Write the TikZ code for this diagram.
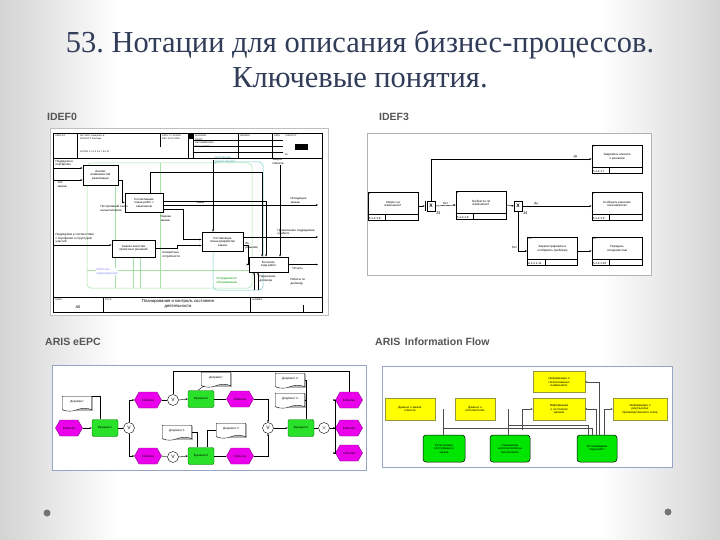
\documentclass[tikz,border=0pt]{standalone}
\usepackage{fontspec}
\setmainfont{Liberation Serif}
\setsansfont{Liberation Sans}
\usetikzlibrary{shapes.symbols,shapes.misc,arrows.meta}
\frenchspacing
\newcommand\mytiny{\sffamily\fontsize{3}{3.5}\selectfont}
\newcommand\myhdr{\sffamily\fontsize{2.3}{2.7}\selectfont}
\definecolor{titlec}{RGB}{48,60,88}
\definecolor{labc}{RGB}{85,85,85}
\definecolor{framec}{RGB}{150,165,195}
\definecolor{epcmag}{RGB}{235,0,235}
\definecolor{epcmagd}{RGB}{140,0,140}
\definecolor{epcgreen}{RGB}{40,225,40}
\definecolor{epcgreend}{RGB}{0,110,0}
\definecolor{ifyellow}{RGB}{255,255,0}
\definecolor{ifyellowd}{RGB}{150,150,60}
\definecolor{ifgreen}{RGB}{0,230,0}
\definecolor{lgreen}{RGB}{165,225,165}
\definecolor{lcyan}{RGB}{115,205,205}
\tikzset{
  lab/.style={font=\sffamily\bfseries\fontsize{10.5}{11}\selectfont, text=labc, anchor=west, inner sep=0pt},
  i0box/.style={draw, line width=0.8pt, fill=white, align=center, inner sep=0.5pt},
  tx/.style={align=left, inner sep=0.3pt},
  uobbox/.style={draw, line width=0.8pt, fill=white, minimum width=50pt, minimum height=28pt, inner sep=0pt},
  junc/.style={draw, line width=0.5pt, fill=white, minimum width=8pt, minimum height=10pt, inner sep=0pt, font=\sffamily\bfseries\fontsize{5}{5}\selectfont},
  event/.style={signal, signal to=east and west, signal pointer angle=120, fill=epcmag, draw=epcmagd, line width=0.4pt, minimum width=27pt, minimum height=16pt, inner sep=0.5pt},
  func/.style={rectangle, rounded corners=2pt, fill=epcgreen, draw=epcgreend, line width=0.4pt, minimum width=26pt, minimum height=17pt, inner sep=0.5pt},
  conn/.style={circle, draw, fill=white, line width=0.4pt, minimum size=11pt, inner sep=0pt, font=\sffamily\fontsize{5}{5}\selectfont},
  docnode/.style={minimum width=29pt, minimum height=13pt, inner sep=0pt},
  ybox/.style={fill=ifyellow, draw=ifyellowd, line width=0.3pt, align=center, inner sep=0.5pt},
  gbox/.style={fill=ifgreen, draw=black, line width=0.5pt, rounded corners=3pt, align=center, inner sep=0.5pt, minimum height=27pt},
  flow/.style={draw=black!70, line width=0.3pt},
  ln/.style={line width=0.4pt}
}
\newcommand\uob[6]{%
  \node[uobbox] (#1) at (#2,#3) {};
  \draw ([yshift=6pt]#1.south west) -- ([yshift=6pt]#1.south east);
  \draw ([xshift=18pt]#1.south west) -- ([xshift=18pt,yshift=6pt]#1.south west);
  \node[anchor=south west, inner sep=0.8pt] at (#1.south west) {#6};
  \node[anchor=north west, inner sep=0.8pt] at (#1.north west) {#4};
  \node[align=center, inner sep=0pt] at ([yshift=2pt]#1.center) {#5};
}
\newcommand\epcdoc[4]{%
  \node[docnode] (#1) at (#2,#3) {};
  \fill[black!30] ([xshift=1pt,yshift=-1pt]#1.north west) rectangle ([xshift=1pt,yshift=-1pt]#1.south east);
  \draw[fill=white, line width=0.35pt] (#1.north west) -- (#1.north east) -- (#1.south east)
     .. controls +(-5pt,2pt) and +(5pt,2pt) .. (#1.south)
     .. controls +(-5pt,-2pt) and +(5pt,-2pt) .. (#1.south west) -- cycle;
  \node[inner sep=0pt] at ([yshift=1pt]#1.center) {#4};
}
\begin{document}
\begin{tikzpicture}[x=1pt,y=-1pt,font=\mytiny,>={Stealth[length=2.2pt,width=1.8pt]}]
\useasboundingbox (0,0) rectangle (720,540);
% background
\fill[white] (0,0) rectangle (720,540);
\shade[left color=black!17, right color=white] (0,0) rectangle (120,540);
\shade[left color=white, right color=black!17] (600,0) rectangle (720,540);
\fill[black!55] (47,513) circle (3.5);
\fill[black!55] (668,512) circle (3.5);

% title
\node[text=titlec, font=\rmfamily\fontsize{30.5}{32}\selectfont] (title1) at (360,45) {53. Нотации для описания бизнес-процессов.};
\node[text=titlec, font=\rmfamily\fontsize{30.5}{32}\selectfont] (title2) at (360,78) {Ключевые понятия.};

% section labels
\node[lab] (l1) at (47,117) {IDEF0};
\node[lab] (l2) at (379,117) {IDEF3};
\node[lab] (l3) at (45,342) {ARIS eEPC};
\node[lab] (l4) at (375,342) {ARIS\, Information Flow};

%% ================= IDEF0 =================
\draw[draw=black!25, fill=white] (50,128) rectangle (328,315);
\draw[line width=0.5pt] (53,133) rectangle (322,312);
% header
\draw[ln] (53,158) -- (322,158);
\draw[ln] (77,133) -- (77,158);
\draw[ln] (160,133) -- (160,147);
\draw[ln] (188,133) -- (188,158);
\draw[ln] (193,133) -- (193,158);
\fill (188,133) rectangle (193,139);
\draw[ln] (193,140) -- (283,140);
\draw[ln] (193,146) -- (283,146);
\draw[ln] (193,152) -- (283,152);
\draw[ln] (238,133) -- (238,158);
\draw[ln] (272,133) -- (272,158);
\fill (295,144) rectangle (308,150);
\node[anchor=north west, font=\myhdr, inner sep=0pt] (h1) at (55,135) {USED AT:};
\node[anchor=north west, font=\myhdr, inner sep=0pt, align=left] (h2) at (80,135) {AUTHOR: Захаров Е.Б.\\PROJECT: Реклама};
\node[anchor=north west, font=\myhdr, inner sep=0pt] (h3) at (80,151) {NOTES: 1 2 3 4 5 6 7 8 9 10};
\node[anchor=north west, font=\myhdr, inner sep=0pt, align=left] (h4) at (162,135) {DATE: 17.11.2008\\REV: 16.12.2008};
\node[anchor=north west, font=\myhdr, inner sep=0pt, align=left] (h5) at (195,135) {WORKING\\[0.8pt]DRAFT\\[0.8pt]RECOMMENDED\\[0.8pt]PUBLICATION};
\node[anchor=north west, font=\myhdr, inner sep=0pt] (h6) at (240,135) {READER};
\node[anchor=north west, font=\myhdr, inner sep=0pt] (h7) at (274,135) {DATE};
\node[anchor=north west, font=\myhdr, inner sep=0pt] (h8) at (285,135) {CONTEXT:};
\node[anchor=north west, font=\myhdr, inner sep=0pt] (h9) at (285,154) {A0};
% footer
\draw[ln] (53,297) -- (322,297);
\draw[ln] (103,297) -- (103,312);
\draw[ln] (250,297) -- (250,312);
\draw[ln] (303,305) -- (303,312);
\node[anchor=north west, font=\myhdr, inner sep=0pt] (f1t) at (55,299) {NODE:};
\node[font=\sffamily\fontsize{4}{4}\selectfont] (f2t) at (78,307) {A0};
\node[anchor=north west, font=\myhdr, inner sep=0pt] (f3t) at (105,299) {TITLE:};
\node[font=\sffamily\fontsize{4.2}{5}\selectfont, align=center] (f4t) at (178,304) {Планирование и контроль состояния\\деятельности};
\node[anchor=north west, font=\myhdr, inner sep=0pt] (f5t) at (252,299) {NUMBER:};
% tunnels / light frames
\draw[lgreen, line width=0.5pt, rounded corners=4pt] (87,163) rectangle (252,288);
\draw[lcyan, line width=0.5pt, rounded corners=4pt] (213,162) rectangle (263,290);
\draw[lgreen, line width=0.4pt] (160,163) -- (160,288);
\draw[lgreen, line width=0.4pt] (133,257) -- (133,288);
\draw[lgreen, line width=0.4pt] (140,257) -- (140,288);
\draw[lgreen, line width=0.4pt] (115,185) -- (115,288);
\draw[lgreen, line width=0.4pt] (87,270) -- (252,270);
\node[tx, text=lcyan!85!black, anchor=north west] (tc1) at (214,156) {Сотрудники\\отдела продаж};
\node[tx, text=green!60!black, anchor=north west, fill=white] (tc2) at (216,277) {Сотрудники по\\обслуживанию};
\node[tx, text=blue!45, anchor=north west, fill=white] (tc3) at (96,268) {Работник\\подразделения};
% boxes
\node[i0box, minimum width=35pt, minimum height=20pt] (b1) at (100.5,175) {Анализ\\возможностей\\реализации};
\node[i0box, minimum width=38pt, minimum height=19pt] (b2) at (144,202.5) {Согласование\\плана работ с\\заказчиком};
\node[i0box, minimum width=43pt, minimum height=17pt] (b3) at (133.5,248.5) {Анализ качества\\проектных решений};
\node[i0box, minimum width=41pt, minimum height=19pt] (b4) at (222.5,241.5) {Составление\\плана разработки\\заказа};
\node[i0box, minimum width=39pt, minimum height=15pt] (b5) at (268.5,264.5) {Контроль\\хода работ};
% arrows
\coordinate (in1) at (54,168);
\coordinate (in2) at (54,180);
\coordinate (in3) at (54,245);
\coordinate (k1) at (262,172);
\coordinate (k2) at (280,165);
\coordinate (k3) at (213,160);
\coordinate (o1) at (318,205);
\coordinate (o2) at (318,237);
\coordinate (o3) at (318,264.5);
\coordinate (m1) at (254,290);
\coordinate (m2) at (258,290);
\draw[ln,->] (in1) -- (in1 -| b1.west);
\draw[ln,->] (in2) -- (in2 -| b1.west);
\draw[ln,->] ([yshift=-5pt]b1.east) -- ++(4pt,0pt) |- (b2.west);
\draw[ln,->] ([xshift=6pt]b2.north) |- (k1) -- (k1 |- b5.north);
\draw[ln,->] ([yshift=-2.5pt]b2.east) -- (o1);
\draw[ln,->] ([yshift=1pt]b2.east) -| ([xshift=-2.5pt]b5.north);
\draw[ln,->] ([yshift=-7pt]b2.east) -- ++(20pt,0pt) |- ([yshift=2pt]b4.west);
\draw[line width=0.8pt,->] (in3) -- (in3 -| b3.west);
\draw[ln,->] (b3.east) -- ++(22pt,0pt) |- ([yshift=-4pt]b4.west);
\draw[ln,->] ([yshift=4.5pt]b4.east) -- (o2);
\draw[ln,->] ([yshift=-4pt]b4.east) -- ++(5pt,0pt) |- (b5.west);
\draw[ln,->] (b5.east) -- (o3);
\draw[ln,->] (m1) -- (m1 |- b5.south);
\draw[ln,->] (m2) -- (m2 |- b5.south);
\draw[ln,->] (k2) -- (k2 |- b5.north);
\draw[ln,->] (k3) -- (k3 |- b4.north);
% labels
\node[tx, anchor=south west] (t1) at (55,167) {Подрядчик в\\портфолио};
\node[tx, anchor=north west] (t2) at (57,181) {Тип\\заказа};
\node[tx, anchor=north west] (t3) at (100,205) {Поступивший заказ\\на выполнение};
\node[tx, anchor=south west] (t4) at (55,244) {Подрядчики в соответствии\\с портфолио и структурой\\участий};
\node[tx, anchor=south west] (t5) at (196,204) {Заказ};
\node[tx, anchor=south west] (t6) at (290,204) {Исходящие\\заказы};
\node[tx, anchor=north west] (t7) at (160,215) {Оценка\\заказа};
\node[tx, anchor=north west] (t8) at (162,251) {Конкретные\\потребности};
\node[tx, anchor=south west] (t9) at (277,236) {Привлечение подрядчиков\\к работе};
\node[tx, anchor=north west] (t10) at (245,242) {Вх.\\решение};
\node[tx, anchor=north west] (t11) at (292,267) {Отчеты};
\node[tx, anchor=north west] (t12) at (290,278) {Работы по\\договору};
\node[tx, anchor=north west] (t13) at (259,275) {Нарушение\\договора};
\node[tx, anchor=north west] (t14) at (272,158) {Запрос\\клиента};

%% ================= IDEF3 =================
\draw[draw=black!30, fill=white] (367,133) rectangle (651,275);
\uob{bA}{393}{206}{8.}{Запрос на\\изменение?}{А.1.2.1.8}
\uob{bB}{481}{205}{9.}{Требуется ли\\изменение?}{А.1.2.1.9}
\uob{bT}{617}{159}{7.}{Уведомить клиента\\о решении}{А.1.2.1.7}
\uob{bM}{617}{206}{6.}{Сообщить решение\\пользователю}{А.1.2.1.6}
\uob{bBM}{552.5}{251}{11.}{Зарегистрировать и\\отобразить проблему}{А.1.2.1.11}
\uob{bBR}{617}{251}{10.}{Передать\\специалистам}{А.1.2.1.10}
\node[junc] (j1) at (431,206) {X};
\draw[line width=0.5pt] ([xshift=-2pt]j1.north west) -- ([xshift=-2pt]j1.south west);
\node[junc] (j2) at (518,206) {X};
\node[anchor=north west, font=\sffamily\fontsize{4}{4}\selectfont, inner sep=0pt] (jl1) at (436,212) {J3};
\node[anchor=north west, font=\sffamily\fontsize{4}{4}\selectfont, inner sep=0pt] (jl2) at (523,212) {J4};
\draw[ln,->] (bA.east) -- ([xshift=-2pt]j1.west);
\draw[ln,->] (j1.east) -- (bB.west) node[midway, above, inner sep=0.8pt] {Нет};
\draw[ln,->] (j1.north) |- (bT.west) node[pos=0.95, above, inner sep=0.8pt] {Да};
\draw[ln,->] (bB.east) -- (j2.west);
\draw[ln,->] (j2.east) -- (bM.west) node[pos=0.2, above, inner sep=0.8pt] {Да};
\draw[ln,->] (j2.south) |- (bBM.west) node[pos=0.45, left, inner sep=0.8pt] {Нет};
\draw[ln,->] (bBM.east) -- (bBR.west);

%% ================= ARIS eEPC =================
\draw[draw=framec, fill=white, line width=0.5pt] (52,365) rectangle (366,470);
\coordinate (looptop) at (0,371);
\node[event] (e1) at (69,428) {Событие};
\node[func] (f1) at (105,428) {Функция 1};
\node[conn] (c1) at (129,428) {V};
\node[event] (e2) at (148,400) {Событие};
\node[event] (e3) at (148,456) {Событие};
\node[conn] (c2) at (173,400) {V};
\node[conn] (c3) at (173,457) {V};
\node[func] (f2) at (201,399) {Функция 2};
\node[func] (f3) at (201,456) {Функция 3};
\node[event] (e4) at (240,399) {Событие};
\node[event] (e5) at (240,456) {Событие};
\node[conn] (c4) at (268,428) {V};
\node[func] (f4) at (301,428) {Функция 4};
\node[conn] (c5) at (324,428) {$\times$};
\node[event] (e6) at (349,400) {Событие};
\node[event] (e7) at (349,428) {Событие};
\node[event] (e8) at (349,453) {Событие};
\draw[ln,->] (e1.east) -- (f1.west);
\draw[ln] (f1.east) -- (c1.west);
\draw[ln,->] (c1.north) |- (e2.west);
\draw[ln,->] (c1.south) |- (e3.west);
\draw[ln] (e2.east) -- (c2.west);
\draw[ln,->] (c2.east) -- (f2.west);
\draw[ln] (f2.east) -- (e4.west);
\draw[ln,->] (e4.east) -| (c4.north);
\draw[ln] (e3.east) -- (c3.west);
\draw[ln,->] (c3.east) -- (f3.west);
\draw[ln] (f3.east) -- (e5.west);
\draw[ln,->] (e5.east) -| (c4.south);
\draw[ln,->] (c4.east) -- (f4.west);
\draw[ln] (f4.east) -- (c5.west);
\draw[ln,->] (c5.east) -- ++(5pt,0pt) |- (e6.west);
\draw[ln,->] (c5.east) -- (e7.west);
\draw[ln,->] (c5.east) -- ++(5pt,0pt) |- (e8.west);
\draw[ln] (c2.north) |- (e6.north |- looptop) -- (e6.north);
\epcdoc{d1}{77}{403}{Документ}
\epcdoc{d2}{216}{379}{Документ}
\epcdoc{d3}{177}{432}{Документ 1}
\epcdoc{d4}{231}{430}{Документ 2}
\epcdoc{d5}{290}{380}{Документ 3}
\epcdoc{d6}{290}{400}{Документ 4}
\draw[ln] (d1.north east) -| ([xshift=-5pt]f1.north);
\draw[ln] (d2.south west |- d2.south) ++(3pt,0pt) -- ([xshift=-3pt]f2.north);
\draw[ln] (d3.east) -| ([xshift=-4pt]f3.north);
\draw[ln] (d4.west) -| ([xshift=6pt]f3.north);
\draw[ln] (d5.east) -| ([xshift=5pt]f4.north);
\draw[ln] (d6.east) -| ([xshift=5pt]f4.north);

%% ================= ARIS Information Flow =================
\draw[draw=framec, fill=white, line width=0.5pt] (382,366) rectangle (672,467);
\node[ybox, minimum width=50pt, minimum height=22pt] (y1) at (410,409) {Данные о заказе\\клиента};
\node[ybox, minimum width=40pt, minimum height=22pt] (y2) at (475,409) {Данные о\\исполнителях};
\node[ybox, minimum width=52pt, minimum height=22pt] (y3) at (559,409) {Информация\\о состоянии\\заказов};
\node[ybox, minimum width=52pt, minimum height=21pt] (y4) at (559,382) {Информация о\\согласованных\\изменениях};
\node[ybox, minimum width=54pt, minimum height=22pt] (y5) at (640,409) {Информация о\\результатах\\производственного этапа};
\node[gbox, minimum width=42pt] (g1) at (444,448.5) {Регистрация\\поступившего\\заказа};
\node[gbox, minimum width=40pt] (g2) at (510,448.5) {Назначение\\исполнителей на\\выполнение};
\node[gbox, minimum width=40pt] (g3) at (597,448.5) {Отслеживание\\хода работ};
\coordinate (fa) at (443,409);
\coordinate (fb) at (508,409);
\coordinate (fc) at (522,430);
\coordinate (fd) at (588,425);
\coordinate (fe) at (592,428);
\draw[flow] (fa) -- (fa |- g1.north);
\draw[flow] (fb) -- (fb |- g2.north);
\draw[flow] (fb |- fd) -- (fd) -- (fd |- g3.north);
\draw[flow] (fa |- fe) -- (fe) -- (fe |- g3.north);
\draw[flow,->] (fc) |- (y3.west);
\draw[flow,->] ([xshift=-1pt]g3.north) |- (y3.east);
\draw[flow,->] ([xshift=2pt]g3.north) |- (y4.east);
\draw[flow,->] ([xshift=7pt]g3.north) |- (y5.west);
\end{tikzpicture}
\end{document}
